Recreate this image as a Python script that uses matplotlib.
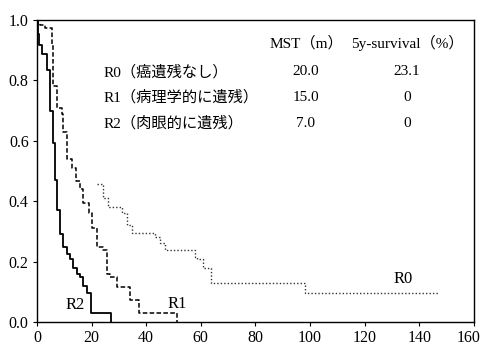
import matplotlib
matplotlib.use("Agg")
import matplotlib.pyplot as plt
from matplotlib.transforms import ScaledTranslation

plt.rcParams['font.family'] = ['Liberation Serif', 'Noto Sans CJK JP']

# survival curves (month, survival) - step after each event
r2_months = [0, 0.25, 0.85, 1.9, 3.6, 4.8, 5.75, 6.6, 7.4, 8.4, 9.6, 10.9,
             12.1, 13.1, 14.8, 15.8, 16.7, 18.2, 19.6, 27.1]
r2_surv = [1.0, 0.955, 0.917, 0.886, 0.834, 0.70, 0.593, 0.47, 0.37, 0.29,
           0.25, 0.225, 0.21, 0.18, 0.16, 0.15, 0.12, 0.095, 0.03, 0.0]

r1_months = [0, 0.25, 1.0, 3.0, 5.4, 6.0, 7.2, 9.0, 9.6, 10.9, 12.7, 14.3,
             15.8, 17.0, 19.2, 20.0, 21.9, 24.2, 25.5, 26.7, 29.2, 34.1,
             37.5, 51.2]
r1_surv = [1.0, 0.99, 0.985, 0.975, 0.92, 0.78, 0.71, 0.69, 0.63, 0.54, 0.51,
           0.467, 0.44, 0.395, 0.36, 0.31, 0.25, 0.24, 0.16, 0.15, 0.116,
           0.072, 0.03, 0.0]

# upper part of R0 is lost in the scan; only the visible tail is drawn
r0_months = [22.0, 24.3, 26.1, 31.0, 32.9, 34.7, 43.2, 45.1, 46.9, 57.9,
             58.5, 60.9, 63.6, 98.2, 146.9]
r0_surv = [0.456, 0.41, 0.38, 0.36, 0.32, 0.295, 0.28, 0.26, 0.237, 0.215,
           0.21, 0.18, 0.128, 0.095, 0.095]

table_rows = ['R0（癌遺残なし）', 'R1（病理学的に遺残）', 'R2（肉眼的に遺残）']
table_mst = ['20.0', '15.0', '7.0']
table_5y = ['23.1', '0', '0']

x_ticks = [0, 20, 40, 60, 80, 100, 120, 140, 160]
y_ticks = [0.0, 0.2, 0.4, 0.6, 0.8, 1.0]

fig = plt.figure(figsize=(4.83, 3.54), dpi=100)
ax = fig.add_axes([0.0766, 0.0904, 0.9044, 0.853])

ax.step(r2_months, r2_surv, where='post', color='black', linewidth=1.3)
ax.step(r1_months, r1_surv, where='post', color='black', linewidth=1.1,
        linestyle=(0, (3, 1.5)))
ax.step(r0_months, r0_surv, where='post', color='#333333', linewidth=1.0,
        linestyle=(0, (1, 1.5)))

ax.set_xlim(0, 160)
ax.set_ylim(0, 1.0)
ax.set_xticks(x_ticks, [str(v) for v in x_ticks])
ax.set_yticks(y_ticks, [f'{v:.1f}' for v in y_ticks])
ax.tick_params(labelsize=11.5, length=3, width=0.8, pad=3)

# last x label sits a little left, against the figure edge in the scan
last = ax.get_xticklabels()[-1]
last.set_transform(last.get_transform() + ScaledTranslation(-4 / 72, 0, fig.dpi_scale_trans))

for s in ax.spines.values():
    s.set_linewidth(1.0)

# header and table
ax.text(98.5, 0.924, 'MST（m）', fontsize=11, ha='center', va='center')
ax.text(135.5, 0.924, '5y-survival（%）', fontsize=11, ha='center', va='center')
row_y = [0.828, 0.745, 0.659]
for label, mst, y5, yy in zip(table_rows, table_mst, table_5y, row_y):
    ax.text(24.5, yy, label, fontsize=11, ha='left', va='center')
    ax.text(98.5, yy, mst, fontsize=11, ha='center', va='center')
    ax.text(135.5, yy, y5, fontsize=11, ha='center', va='center')

# curve labels
ax.text(13.9, 0.056, 'R2', fontsize=12, ha='center', va='center')
ax.text(51.3, 0.06, 'R1', fontsize=12, ha='center', va='center')
ax.text(134, 0.142, 'R0', fontsize=12, ha='center', va='center')

fig.savefig('out.png', dpi=100)
